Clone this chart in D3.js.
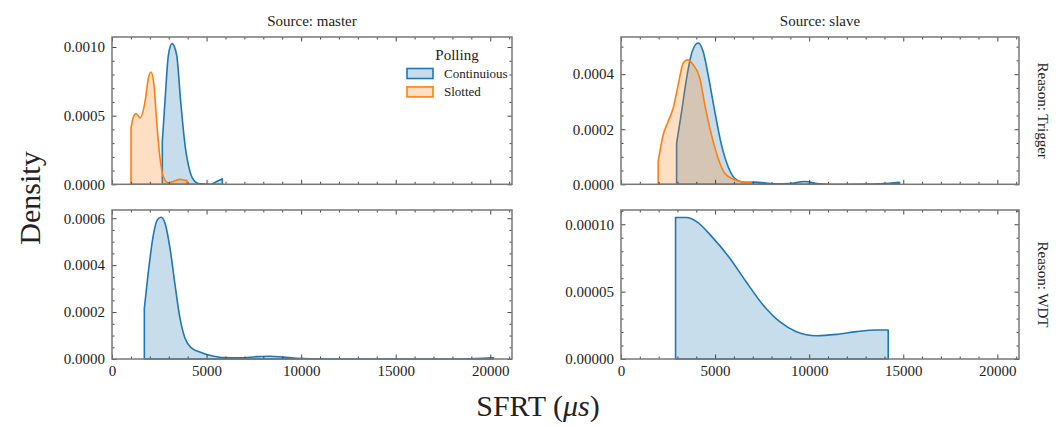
<!DOCTYPE html>
<html>
<head>
<meta charset="utf-8">
<script src="https://cdn.jsdelivr.net/npm/d3@7"></script>
<style>
  body { margin: 0; background: #fff; }
  text { font-family: "Liberation Serif", "DejaVu Serif", serif; fill: #222; }
</style>
</head>
<body>
<svg id="chart" width="1064" height="426"></svg>
<script>
// SFRT (us) and KDE density
// Source: master / Reason: Trigger
const masterTrigContX = [2660, 2800, 2980, 3174, 3421, 3633, 3862, 4126, 4391, 4655, 5184, 5537, 5835];
const masterTrigContY = [0.00031, 0.0006, 0.00094, 0.001025, 0.00094, 0.0006, 0.000286, 0.000092, 0.00002, 0.000003, 0.0, 0.00002, 0.00004];
const masterTrigSlotX = [1005, 1127, 1270, 1481, 1746, 1920, 2063, 2222, 2363, 2539, 2716, 2980, 3244, 3597, 3862, 3960];
const masterTrigSlotY = [0.000407, 0.00049, 0.000516, 0.000484, 0.0006, 0.00077, 0.000818, 0.00072, 0.000455, 0.00019, 0.000055, 0.00001, 0.00002, 0.000036, 0.00003, 0.00003];
// Source: slave / Reason: Trigger
const slaveTrigContX = [2955, 3220, 3485, 3782, 4100, 4366, 4631, 4985, 5340, 5693, 6047, 6578, 7108, 7815, 8150, 8950, 9761, 10560, 11620, 13200, 14270, 14800];
const slaveTrigContY = [0.000149, 0.000264, 0.000385, 0.000482, 0.000513, 0.000482, 0.000397, 0.000264, 0.000143, 0.000064, 0.000022, 0.000007, 0.000008, 0.000004, 0.000002, 0.000003, 0.00001, 0.000002, 0.0, 0.000001, 0.000004, 0.000007];
const slaveTrigSlotX = [1975, 2240, 2505, 2770, 3040, 3305, 3535, 3835, 4190, 4456, 4810, 5160, 5517, 5957, 6400, 6933];
const slaveTrigSlotY = [0.000082, 0.000179, 0.000228, 0.000276, 0.000361, 0.00044, 0.000452, 0.000434, 0.000385, 0.000288, 0.000179, 0.000095, 0.00004, 0.000019, 0.000009, 0.000005];
// Source: master / Reason: WDT
const masterWdtContX = [1710, 1922, 2187, 2398, 2592, 2804, 3068, 3333, 3597, 3862, 4214, 4745, 5274, 5887, 6771, 7655, 8358, 9062, 9770, 10500, 12000, 18000, 19300, 20170];
const masterWdtContY = [0.000216, 0.000372, 0.000529, 0.000593, 0.000604, 0.000579, 0.000472, 0.000316, 0.000173, 0.000088, 0.000046, 0.000027, 0.000014, 0.000006, 0.000005, 0.00001, 0.000012, 0.000008, 0.000003, 0.000001, 0.0, 0.0, 0.000002, 0.000005];
// Source: slave / Reason: WDT
const slaveWdtContX = [2900, 3485, 4015, 4898, 5782, 6668, 7550, 8435, 9320, 10380, 11443, 12504, 13565, 14200];
const slaveWdtContY = [0.000105, 0.000105, 0.000102, 0.0000897, 0.0000748, 0.000057, 0.0000401, 0.0000277, 0.0000203, 0.0000173, 0.0000183, 0.0000203, 0.0000215, 0.0000215];

const sources = ["master", "slave"];
const reasons = ["Trigger", "WDT"];
const pollings = ["Continuious", "Slotted"];
const xTicks = [0, 5000, 10000, 15000, 20000];
const xMax = 21150;

const colors = { Continuious: "#1f77b4", Slotted: "#ff7f0e" };

const panels = [
  { src: 0, rsn: 0, yMax: 0.001073, yTicks: [0, 0.0005, 0.001], yMinor: 0.0001, fmt: ".4f",
    series: [["Continuious", masterTrigContX, masterTrigContY], ["Slotted", masterTrigSlotX, masterTrigSlotY]] },
  { src: 1, rsn: 0, yMax: 0.000535, yTicks: [0, 0.0002, 0.0004], yMinor: 0.00005, fmt: ".4f",
    series: [["Continuious", slaveTrigContX, slaveTrigContY], ["Slotted", slaveTrigSlotX, slaveTrigSlotY]] },
  { src: 0, rsn: 1, yMax: 0.000635, yTicks: [0, 0.0002, 0.0004, 0.0006], yMinor: 0.00005, fmt: ".4f",
    series: [["Continuious", masterWdtContX, masterWdtContY]] },
  { src: 1, rsn: 1, yMax: 0.0001106, yTicks: [0, 0.00005, 0.0001], yMinor: 0.00001, fmt: ".5f",
    series: [["Continuious", slaveWdtContX, slaveWdtContY]] }
];

const colLeft = [112, 621], colW = [400, 398];
const rowTop = [37, 210], rowH = [147.3, 149];

const svg = d3.select("#chart");

panels.forEach(p => {
  const w = colW[p.src], h = rowH[p.rsn];
  const g = svg.append("g").attr("transform", `translate(${colLeft[p.src]},${rowTop[p.rsn]})`);
  const x = d3.scaleLinear().domain([0, xMax]).range([0, w]);
  const y = d3.scaleLinear().domain([0, p.yMax]).range([h, 0]);

  // density curves (filled, outlined)
  p.series.forEach(([name, xs, ys]) => {
    const pts = xs.map((v, i) => [v, ys[i]]);
    const area = d3.area()
      .x(d => x(d[0])).y0(y(0)).y1(d => y(d[1]))
      .curve(d3.curveMonotoneX);
    g.append("path")
      .attr("d", area(pts))
      .attr("fill", colors[name]).attr("fill-opacity", 0.25)
      .attr("stroke", colors[name]).attr("stroke-width", 1.6)
      .attr("stroke-linejoin", "round");
  });

  const xMinor = d3.range(0, xMax, 1000).filter(v => v % 5000 !== 0);
  const yMinorVals = d3.range(0, p.yMax, p.yMinor).filter(v => !p.yTicks.some(t => Math.abs(t - v) < p.yMinor / 10));

  function addAxis(axis, tr, labels) {
    const a = g.append("g").attr("transform", tr).call(axis);
    a.select(".domain").remove();
    a.selectAll(".tick line").attr("stroke", "#333").attr("stroke-width", 0.9);
    if (!labels) a.selectAll(".tick text").remove();
    return a;
  }
  // left
  const yl = addAxis(d3.axisLeft(y).tickValues(p.yTicks).tickFormat(d3.format(p.fmt)).tickSize(-4.5).tickPadding(7), "", true);
  yl.selectAll("text").style("font-size", "15px").style("font-family", "Liberation Serif").attr("fill", "#222");
  addAxis(d3.axisLeft(y).tickValues(yMinorVals).tickSize(-2.5), "", false);
  // right
  addAxis(d3.axisRight(y).tickValues(p.yTicks).tickSize(-4.5), `translate(${w},0)`, false);
  addAxis(d3.axisRight(y).tickValues(yMinorVals).tickSize(-2.5), `translate(${w},0)`, false);
  // top
  addAxis(d3.axisTop(x).tickValues(xTicks).tickSize(-4.5), "", false);
  addAxis(d3.axisTop(x).tickValues(xMinor).tickSize(-2.5), "", false);
  // bottom
  const xb = addAxis(d3.axisBottom(x).tickValues(xTicks).tickFormat(d3.format("d")).tickSize(-4.5).tickPadding(6),
    `translate(0,${h})`, p.rsn === 1);
  xb.selectAll("text").style("font-size", "15px").style("font-family", "Liberation Serif").attr("fill", "#222");
  addAxis(d3.axisBottom(x).tickValues(xMinor).tickSize(-2.5), `translate(0,${h})`, false);

  // frame
  g.append("rect").attr("width", w).attr("height", h)
    .attr("fill", "none").attr("stroke", "#777").attr("stroke-width", 1.5);

  if (p.rsn === 0) {
    g.append("text").attr("x", w / 2).attr("y", -11).attr("text-anchor", "middle")
      .style("font-size", "15px").text("Source: " + sources[p.src]);
  }
  if (p.src === 1) {
    g.append("text")
      .attr("transform", `translate(${w + 14},${h / 2}) rotate(90)`)
      .attr("text-anchor", "middle").attr("dy", "-0.3em")
      .style("font-size", "15px").text("Reason: " + reasons[p.rsn]);
  }

  // legend in first panel
  if (p.src === 0 && p.rsn === 0) {
    const lg = g.append("g").attr("transform", "translate(295,0)");
    lg.append("text").attr("x", 50).attr("y", 23).attr("text-anchor", "middle")
      .style("font-size", "15px").text("Polling");
    pollings.forEach((name, i) => {
      const yy = 31.5 + i * 18.4;
      lg.append("rect").attr("x", 0).attr("y", yy).attr("width", 26).attr("height", 10)
        .attr("fill", colors[name]).attr("fill-opacity", 0.25)
        .attr("stroke", colors[name]).attr("stroke-width", 1.6);
      lg.append("text").attr("x", 37).attr("y", yy + 9.5)
        .style("font-size", "13px").text(name);
    });
  }
});

// figure-level labels
svg.append("text")
  .attr("transform", "translate(40,198) rotate(-90)")
  .attr("text-anchor", "middle")
  .style("font-size", "30px").text("Density");

const xl = svg.append("text").attr("x", 538).attr("y", 416).attr("text-anchor", "middle")
  .style("font-size", "30px");
xl.append("tspan").text("SFRT (");
xl.append("tspan").style("font-style", "italic").text("\u03bcs");
xl.append("tspan").text(")");
</script>
</body>
</html>
